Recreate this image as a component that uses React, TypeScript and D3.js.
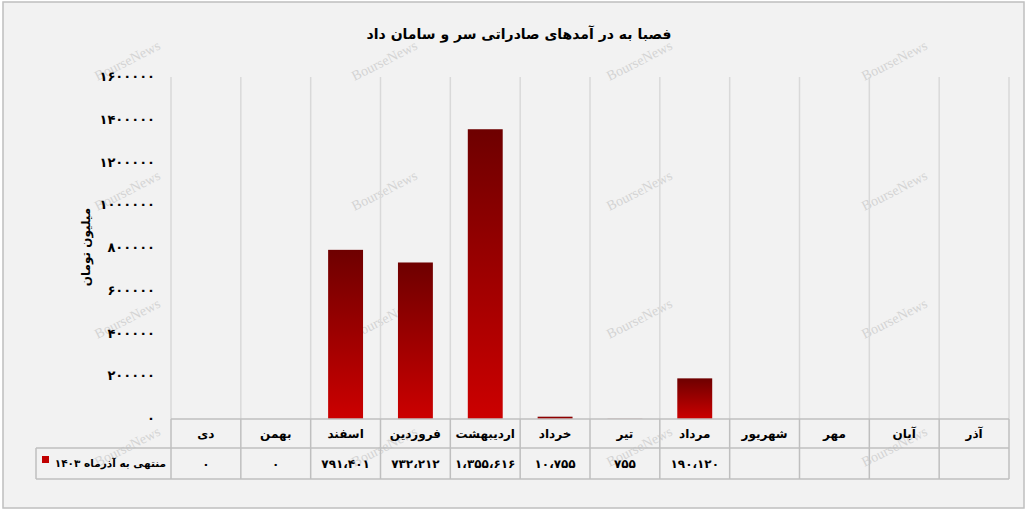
import React, { useEffect } from "react";
import * as d3 from "d3";

const title = "فصبا به در آمدهای صادراتی سر و سامان داد";
const yAxisTitle = "میلیون تومان";
const seriesName = "منتهی به آذرماه ۱۴۰۳";
const categories = ["دی", "بهمن", "اسفند", "فروردین", "اردیبهشت", "خرداد", "تیر", "مرداد", "شهریور", "مهر", "آبان", "آذر"];
const values: (number | null)[] = [0, 0, 791401, 732212, 1355616, 10755, 755, 190120, null, null, null, null];
const yTicks = [0, 200000, 400000, 600000, 800000, 1000000, 1200000, 1400000, 1600000];
const watermarkXs = [128, 385, 640, 895];
const watermarkYs = [62, 192, 320, 448];

const W = 1027;
const H = 512;
const plotLeft = 171;
const plotRight = 1009;
const plotTop = 77;
const plotBottom = 419;
const rowH1 = 29;
const rowH2 = 31;
const tableLeft = 36;

const faDigits = "۰۱۲۳۴۵۶۷۸۹";
const toFa = (s: string) => s.replace(/[0-9]/g, (d) => faDigits[+d]).replace(/,/g, "،");
const fmtComma = d3.format(",");

const FONT = "'DejaVu Sans', sans-serif";

export default function App() {
  useEffect(() => {
    document.body.style.margin = "0";
  }, []);

  const x = d3.scaleBand<string>().domain(categories).range([plotLeft, plotRight]).paddingInner(0.5).paddingOuter(0.25);
  const y = d3.scaleLinear().domain([0, 1600000]).range([plotBottom, plotTop]);
  const step = x.step();
  const bounds = d3.range(categories.length + 1).map((i) => plotLeft + i * step);
  const row1Bottom = plotBottom + rowH1;
  const row2Bottom = row1Bottom + rowH2;

  return (
    <svg width={W} height={H} style={{ display: "block" }} fontFamily={FONT}>
      <defs>
        <linearGradient id="barGrad" x1="0" y1="0" x2="0" y2="1">
          <stop offset="0" stopColor="#6e0000" />
          <stop offset="1" stopColor="#cc0000" />
        </linearGradient>
      </defs>
      <rect x={0} y={0} width={W} height={H} fill="#ffffff" />
      <rect x={3} y={2} width={1021} height={506} fill="#f2f2f2" stroke="#bfbfbf" strokeWidth={1.5} />

      {/* watermarks */}
      {watermarkYs.map((wy) =>
        watermarkXs.map((wx) => (
          <text
            key={`w${wx}-${wy}`}
            transform={`translate(${wx},${wy}) rotate(-27)`}
            textAnchor="middle"
            dominantBaseline="middle"
            fontFamily="'Liberation Serif', serif"
            fontSize={14}
            fill="#d4d4d4"
          >
            BourseNews
          </text>
        ))
      )}

      {/* title */}
      <text x={519} y={39} textAnchor="middle" fontSize={14} fontWeight="bold" fill="#000">
        {title}
      </text>

      {/* gridlines */}
      {bounds.map((bx, i) => (
        <line key={"g" + i} x1={bx} x2={bx} y1={plotTop} y2={plotBottom} stroke="#d9d9d9" strokeWidth={1.5} />
      ))}

      {/* y ticks */}
      {yTicks.map((t) => (
        <text key={"t" + t} x={155} y={y(t) + 4} textAnchor="end" fontSize={13} fontWeight="bold" fill="#000">
          {toFa(String(t))}
        </text>
      ))}

      {/* y axis title */}
      <text transform={`translate(90,247) rotate(-90)`} textAnchor="middle" fontSize={12} fontWeight="bold" fill="#000">
        {yAxisTitle}
      </text>

      {/* bars */}
      {categories.map((c, i) => {
        const v = values[i];
        if (v === null || v <= 0) return null;
        const top = y(v);
        return (
          <rect key={"b" + c} x={x(c)} y={top} width={x.bandwidth()} height={plotBottom - top} fill="url(#barGrad)" />
        );
      })}

      {/* table */}
      <g stroke="#bfbfbf" strokeWidth={1.5}>
        <line x1={plotLeft} x2={plotRight} y1={plotBottom} y2={plotBottom} />
        <line x1={tableLeft} x2={plotRight} y1={row1Bottom} y2={row1Bottom} />
        <line x1={tableLeft} x2={plotRight} y1={row2Bottom} y2={row2Bottom} />
        <line x1={tableLeft} x2={tableLeft} y1={row1Bottom} y2={row2Bottom} />
        {bounds.map((bx, i) => (
          <line key={"tv" + i} x1={bx} x2={bx} y1={plotBottom} y2={row2Bottom} />
        ))}
      </g>
      {categories.map((c) => (
        <text
          key={"c" + c}
          x={(x(c) as number) + x.bandwidth() / 2}
          y={plotBottom + 19}
          textAnchor="middle"
          fontSize={12}
          fontWeight="bold"
          fill="#000"
        >
          {c}
        </text>
      ))}
      {categories.map((c, i) =>
        values[i] === null ? null : (
          <text
            key={"v" + c}
            x={(x(c) as number) + x.bandwidth() / 2}
            y={row1Bottom + 20}
            textAnchor="middle"
            fontSize={12}
            fontWeight="bold"
            fill="#000"
          >
            {toFa(fmtComma(values[i] as number))}
          </text>
        )
      )}
      <rect x={42} y={456} width={7} height={7} fill="#c00000" />
      <text x={166} y={row1Bottom + 19} textAnchor="start" direction="rtl" fontSize={10.5} fontWeight="bold" fill="#000">
        {seriesName}
      </text>
    </svg>
  );
}
